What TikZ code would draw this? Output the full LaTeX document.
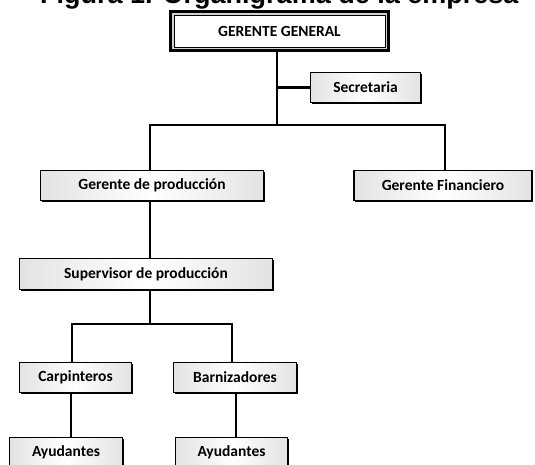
\documentclass[tikz,border=0pt]{standalone}
\usepackage{fontspec}
\setmainfont{Carlito}
\newfontfamily\titlefont{Liberation Sans}
\usetikzlibrary{shadows}
\begin{document}
\begin{tikzpicture}[x=1pt,y=-1pt,
  box/.style={draw=black, line width=1.3pt, left color=gray!22, right color=gray!22, middle color=white,
    general shadow={fill=black, shadow xshift=1.3pt, shadow yshift=-1.6pt},
    minimum height=30pt, inner sep=0pt, font=\fontsize{15.5}{18}\selectfont\bfseries},
  topbox/.style={draw=black, line width=2.6pt, fill=gray!35, inner sep=0pt,
    font=\fontsize{15.5}{18}\selectfont\bfseries,
    path picture={\draw[fill=white, line width=0.8pt]
      ([shift={(3.5pt,3.5pt)}]path picture bounding box.south west) rectangle
      ([shift={(-3.5pt,-3.5pt)}]path picture bounding box.north east);}},
  link/.style={line width=2.6pt, line cap=rect, line join=miter}]
\useasboundingbox (0,0) rectangle (535,464);
\clip (0,0) rectangle (535,464);
\fill[white] (0,0) rectangle (535,464);

\node[anchor=south west, inner sep=0pt, font=\titlefont\bfseries\fontsize{27}{30}\selectfont] (title) at (40,9) {Figura 1. Organigrama de la empresa};

\node[topbox, minimum width=218pt, minimum height=39pt] (gg) at (279.5,31) {GERENTE GENERAL};
\node[box, minimum width=110pt] (sec) at (365.5,87.5) {Secretaria};
\node[box, minimum width=223pt] (gp) at (152,185.5) {Gerente de producción};
\node[box, minimum width=178pt] (gf) at (443,185.5) {Gerente Financiero};
\node[box, minimum width=253pt, minimum height=31pt] (sp) at (146,274) {Supervisor de producción};
\node[box, minimum width=112pt] (carp) at (75.5,377.5) {Carpinteros};
\node[box, minimum width=123pt] (barn) at (235,377.5) {Barnizadores};
\node[box, minimum width=113pt] (ay1) at (66,452.5) {Ayudantes};
\node[box, minimum width=112pt] (ay2) at (231.5,452.5) {Ayudantes};

\coordinate (t1) at (277,125);
\coordinate (a1) at (150,125);
\coordinate (a2) at (445,125);
\coordinate (t2) at (150,324);
\coordinate (b1) at (72,324);
\coordinate (b2) at (232,324);
\coordinate (d1) at (71,410);
\coordinate (d2) at (236,410);

\draw[link] (t1 |- gg.south) -- (t1);
\draw[link] (t1 |- sec.west) -- (sec.west);
\draw[link] (a1 |- gp.north) -- (a1) -- (a2) -- (a2 |- gf.north);
\draw[link] (a1 |- gp.south) -- (a1 |- sp.north);
\draw[link] (t2 |- sp.south) -- (t2);
\draw[link] (b1 |- carp.north) -- (b1) -- (b2) -- (b2 |- barn.north);
\draw[link] (d1 |- carp.south) -- (d1 |- ay1.north);
\draw[link] (d2 |- barn.south) -- (d2 |- ay2.north);
\end{tikzpicture}
\end{document}
